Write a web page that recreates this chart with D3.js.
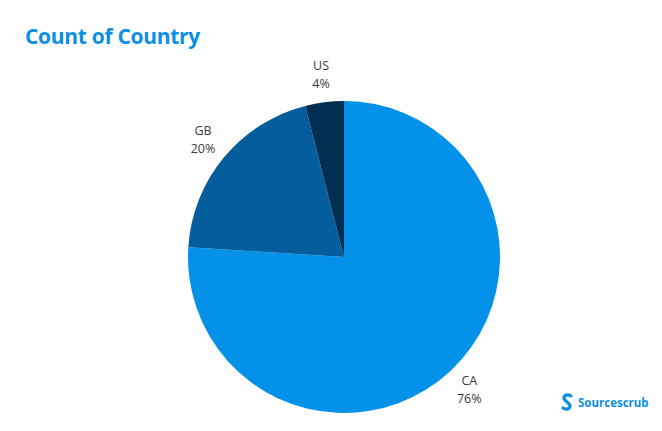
<!DOCTYPE html>
<html><head><meta charset="utf-8">
<script src="https://cdn.jsdelivr.net/npm/d3@7"></script>
<style>body{margin:0;background:#fff;}svg{display:block;}</style>
</head><body>
<svg id="chart" width="662" height="431"></svg>
<script>
const categories = ["CA", "GB", "US"];
const values = [76, 20, 4];
const colors = ["#0391ea", "#045d9c", "#012f52"];

const svg = d3.select("#chart");
const W = 662, H = 431;
svg.append("rect").attr("width", W).attr("height", H).attr("fill", "#fff");

svg.append("text").attr("x", 25).attr("y", 44)
  .attr("font-family", "Open Sans, sans-serif").attr("font-weight", 700)
  .attr("font-size", 21).attr("fill", "#0a8fe6").attr("letter-spacing", -0.3)
  .text("Count of Country");

const cx = 344, cy = 257, r = 156, lr = 183;
const data = categories.map((c, i) => ({cat: c, val: values[i], color: colors[i]}));
const total = d3.sum(values);
const pie = d3.pie().value(d => d.val).sort(null);
const arcs = pie(data);
const arc = d3.arc().innerRadius(0).outerRadius(r);
const labelArc = d3.arc().innerRadius(lr).outerRadius(lr);

const g = svg.append("g").attr("transform", `translate(${cx},${cy})`);
g.selectAll("path").data(arcs).join("path")
  .attr("d", arc).attr("fill", d => d.data.color);

const lab = g.selectAll("g.lab").data(arcs).join("g").attr("class", "lab")
  .attr("transform", d => `translate(${labelArc.centroid(d)})`);
lab.append("text").attr("text-anchor", "middle").attr("y", -5)
  .attr("font-family", "Open Sans, sans-serif").attr("font-size", 12.5).attr("fill", "#3a3a3a")
  .text(d => d.data.cat);
lab.append("text").attr("text-anchor", "middle").attr("y", 13)
  .attr("font-family", "Open Sans, sans-serif").attr("font-size", 12.5).attr("fill", "#3a3a3a")
  .text(d => Math.round(d.data.val / total * 100) + "%");

// logo
const logo = svg.append("g").attr("transform", "translate(562,402)");
logo.append("path")
  .attr("d", "M9,-6 C6,-8 2,-7 2,-4 C2,-1 8,1 8,4 C8,7 4,8 1,6")
  .attr("fill", "none").attr("stroke", "#0a8fe6").attr("stroke-width", 3.2).attr("stroke-linecap", "round");
logo.append("text").attr("x", 16).attr("y", 5)
  .attr("font-family", "Open Sans, sans-serif").attr("font-weight", 700)
  .attr("font-size", 11.5).attr("fill", "#0a8fe6").text("Sourcescrub");
</script>
</body></html>
